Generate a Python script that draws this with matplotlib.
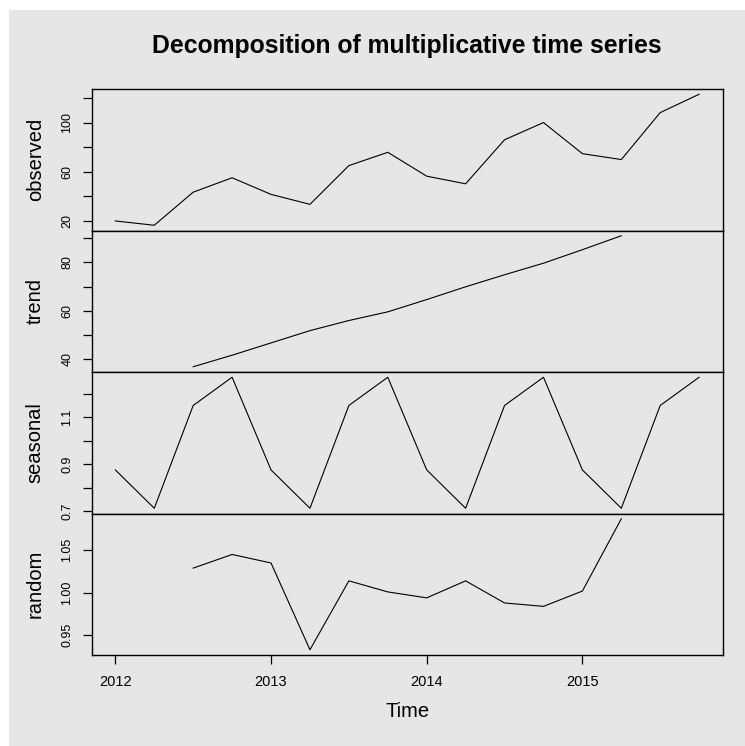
import numpy as np
import matplotlib
matplotlib.use("Agg")
import matplotlib.pyplot as plt
from matplotlib.patches import Rectangle

plt.rcParams["font.family"] = ["Liberation Sans", "DejaVu Sans"]

nan = np.nan
start_year = 2012
freq = 4

observed = [20.0, 16.5, 43.4, 55.1, 41.6, 33.5, 65.0, 75.8,
            56.4, 50.2, 86.0, 100.0, 74.7, 69.9, 108.1, 123.0]
trend = [nan, nan, 36.7, 41.5, 46.6, 51.7, 55.9, 59.5,
         64.6, 69.9, 74.9, 79.7, 85.3, 91.1, nan, nan]
seasonal = [0.876, 0.713, 1.150, 1.270, 0.876, 0.713, 1.150, 1.270,
            0.876, 0.713, 1.150, 1.270, 0.876, 0.713, 1.150, 1.270]
random = [nan, nan, 1.029, 1.045, 1.035, 0.933, 1.014, 1.001,
          0.994, 1.014, 0.988, 0.984, 1.002, 1.087, nan, nan]

panel_names = ["observed", "trend", "seasonal", "random"]
yticks = [[20, 40, 60, 80, 100, 120],
          [40, 50, 60, 70, 80, 90],
          [0.7, 0.8, 0.9, 1.0, 1.1, 1.2],
          [0.95, 1.00, 1.05]]
ylabels = [["20", "", "60", "", "100", ""],
           ["40", "", "60", "", "80", ""],
           ["0.7", "", "0.9", "", "1.1", ""],
           ["0.95", "1.00", "1.05"]]
xticks = [2012, 2013, 2014, 2015]

time = start_year + np.arange(len(observed)) / freq
series = [observed, trend, seasonal, random]

bg = "#e6e6e6"
fig = plt.figure(figsize=(7.45, 7.46), dpi=100, facecolor="white")
fig.patches.append(Rectangle((9 / 745, 0), 1, 1 - 10 / 746, transform=fig.transFigure,
                             facecolor=bg, edgecolor="none", zorder=-10))

W, H = 745, 746
left, right = 92, 722.5
top, bottom = 89, 655
ph = (bottom - top) / 4

axes = []
for i in range(4):
    y0 = top + ph * (i + 1)
    ax = fig.add_axes([left / W, 1 - y0 / H, (right - left) / W, ph / H],
                      sharex=axes[0] if axes else None)
    ax.set_facecolor(bg)
    ax.plot(time, series[i], color="black", lw=0.8)
    ax.margins(x=0.04, y=0.04)
    ax.set_yticks(yticks[i])
    ax.set_yticklabels(ylabels[i])
    ax.tick_params(axis="y", direction="out", length=6.5, width=0.9,
                   labelsize=9, labelrotation=90, pad=7)
    for lab in ax.get_yticklabels():
        lab.set_va("center")
    ax.set_ylabel(panel_names[i], fontsize=14.5, va="center")
    ax.yaxis.set_label_coords(-0.09, 0.5)
    for s in ax.spines.values():
        s.set_linewidth(1.0)
    if i < 3:
        ax.tick_params(axis="x", bottom=False, labelbottom=False)
    axes.append(ax)

ax = axes[-1]
ax.set_xticks(xticks)
ax.set_xticklabels([str(x) for x in xticks])
ax.tick_params(axis="x", direction="out", length=6.5, width=0.9,
               labelsize=10.5, pad=8)
ax.set_xlabel("Time", fontsize=14.5, va="center")
ax.xaxis.set_label_coords(0.5, -0.40)

fig.text((left + right) / 2 / W, 1 - 53 / H, "Decomposition of multiplicative time series",
         ha="center", va="baseline", fontsize=17.8, fontweight="bold")

fig.savefig("out.png", dpi=100, facecolor="white")
